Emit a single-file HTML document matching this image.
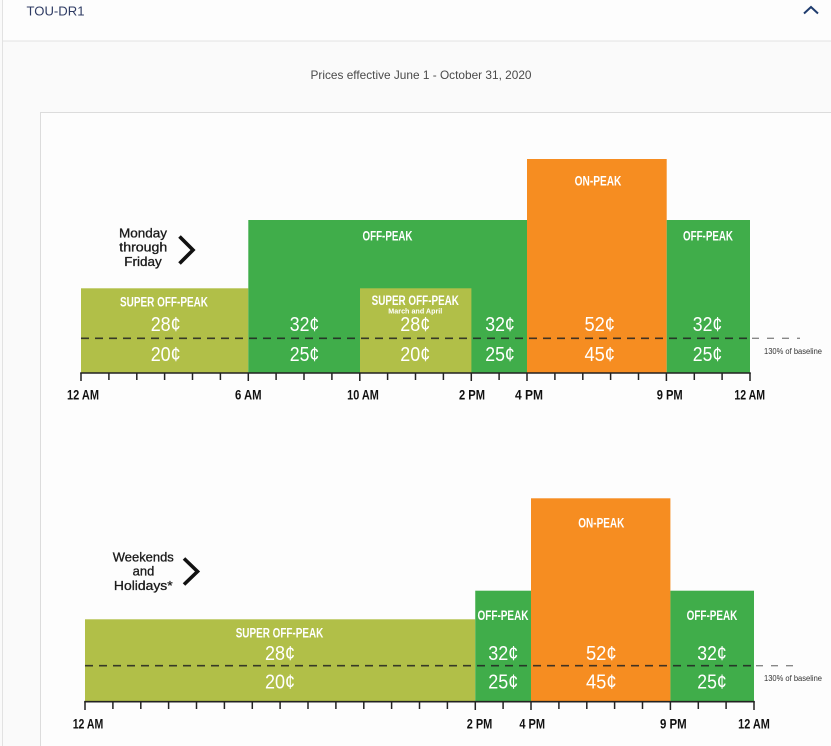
<!DOCTYPE html>
<html>
<head>
<meta charset="utf-8">
<style>
  html,body{margin:0;padding:0;background:#fff;}
  svg{display:block;}
  .lbl{font-family:"Liberation Sans Narrow","Liberation Sans",sans-serif;font-weight:bold;fill:#fff;font-size:13.5px;}
  .pr{font-family:"Liberation Sans Narrow","Liberation Sans",sans-serif;fill:#fff;font-size:20px;}
  .tk{font-family:"Liberation Sans Narrow","Liberation Sans",sans-serif;font-weight:bold;fill:#111;font-size:14px;}
  .day{font-family:"Liberation Sans",sans-serif;fill:#1a1a1a;stroke:#1a1a1a;stroke-width:0.3;font-size:12.5px;}
  .base{font-family:"Liberation Sans",sans-serif;fill:#333;font-size:8px;}
</style>
</head>
<body>
<svg width="831" height="746" viewBox="0 0 831 746" xmlns="http://www.w3.org/2000/svg">
  <rect x="0" y="0" width="831" height="746" fill="#fafafa"/>
  <rect x="2" y="0" width="829" height="41" fill="#fdfdfd"/>
  <line x1="2.5" y1="0" x2="2.5" y2="746" stroke="#e2e2e2" stroke-width="1"/>
  <line x1="2" y1="41" x2="831" y2="41" stroke="#e2e2e2" stroke-width="1"/>
  <text x="26.5" y="15.5" font-family="Liberation Sans, sans-serif" font-size="13px" fill="#2e3b63" textLength="58" lengthAdjust="spacingAndGlyphs">TOU-DR1</text>
  <polyline points="804,13.5 811,7 818,13.5" fill="none" stroke="#1f3c6e" stroke-width="2"/>
  <text x="421" y="79" text-anchor="middle" font-family="Liberation Sans, sans-serif" font-size="12px" fill="#4a4a4a" textLength="221" lengthAdjust="spacingAndGlyphs">Prices effective June 1 - October 31, 2020</text>

  <rect x="40.5" y="112.5" width="800" height="640" fill="#fdfdfd" stroke="#dcdcdc" stroke-width="1"/>

  <!-- TOP CHART -->
  <rect x="81" y="288.3" width="167.3" height="84.7" fill="#b1bf48"/>
  <rect x="248.3" y="220" width="278.7" height="153" fill="#40ad4a"/>
  <rect x="360" y="288.3" width="111.4" height="84.7" fill="#b1bf48"/>
  <rect x="527" y="159" width="139.7" height="214" fill="#f68d21"/>
  <rect x="666.7" y="220" width="83.3" height="153" fill="#40ad4a"/>

  <line x1="81" y1="338.3" x2="750" y2="338.3" stroke="#222" stroke-opacity="0.85" stroke-width="1.6" stroke-dasharray="8 6"/>
  <line x1="752" y1="338.3" x2="800" y2="338.3" stroke="#888" stroke-width="1.4" stroke-dasharray="7 8"/>
  <text class="base" x="764" y="354" textLength="58" lengthAdjust="spacingAndGlyphs">130% of baseline</text>

  <text class="lbl" x="164" y="306.5" text-anchor="middle" textLength="88" lengthAdjust="spacingAndGlyphs">SUPER OFF-PEAK</text>
  <text class="pr" x="165.7" y="331" text-anchor="middle" textLength="30" lengthAdjust="spacingAndGlyphs">28¢</text>
  <text class="pr" x="165.7" y="361" text-anchor="middle" textLength="30" lengthAdjust="spacingAndGlyphs">20¢</text>

  <text class="lbl" x="387.5" y="240.5" text-anchor="middle" textLength="50" lengthAdjust="spacingAndGlyphs">OFF-PEAK</text>
  <text class="pr" x="304.5" y="331" text-anchor="middle" textLength="29.5" lengthAdjust="spacingAndGlyphs">32¢</text>
  <text class="pr" x="304.5" y="361" text-anchor="middle" textLength="29.5" lengthAdjust="spacingAndGlyphs">25¢</text>

  <text class="lbl" x="415.3" y="305" text-anchor="middle" textLength="87.3" lengthAdjust="spacingAndGlyphs">SUPER OFF-PEAK</text>
  <text x="415.3" y="313.5" text-anchor="middle" font-family="Liberation Sans, sans-serif" font-weight="bold" font-size="7px" fill="#fff" textLength="54" lengthAdjust="spacingAndGlyphs">March and April</text>
  <text class="pr" x="415.3" y="331" text-anchor="middle" textLength="30" lengthAdjust="spacingAndGlyphs">28¢</text>
  <text class="pr" x="415.3" y="361" text-anchor="middle" textLength="30" lengthAdjust="spacingAndGlyphs">20¢</text>

  <text class="pr" x="500" y="331" text-anchor="middle" textLength="29.5" lengthAdjust="spacingAndGlyphs">32¢</text>
  <text class="pr" x="500" y="361" text-anchor="middle" textLength="29.5" lengthAdjust="spacingAndGlyphs">25¢</text>

  <text class="lbl" x="598" y="185.5" text-anchor="middle" textLength="46.7" lengthAdjust="spacingAndGlyphs">ON-PEAK</text>
  <text class="pr" x="599.7" y="331" text-anchor="middle" textLength="30.5" lengthAdjust="spacingAndGlyphs">52¢</text>
  <text class="pr" x="599.7" y="361" text-anchor="middle" textLength="30.5" lengthAdjust="spacingAndGlyphs">45¢</text>

  <text class="lbl" x="708" y="240.5" text-anchor="middle" textLength="50" lengthAdjust="spacingAndGlyphs">OFF-PEAK</text>
  <text class="pr" x="707.5" y="331" text-anchor="middle" textLength="29.5" lengthAdjust="spacingAndGlyphs">32¢</text>
  <text class="pr" x="707.5" y="361" text-anchor="middle" textLength="29.5" lengthAdjust="spacingAndGlyphs">25¢</text>

  <line x1="80.2" y1="373" x2="750.8" y2="373" stroke="#222" stroke-width="1.6"/>
  <g stroke="#222" stroke-width="1.5">
    <line x1="81" y1="373" x2="81" y2="381"/><line x1="108.9" y1="373" x2="108.9" y2="380"/>
    <line x1="136.8" y1="373" x2="136.8" y2="380"/><line x1="164.6" y1="373" x2="164.6" y2="380"/>
    <line x1="192.5" y1="373" x2="192.5" y2="380"/><line x1="220.4" y1="373" x2="220.4" y2="380"/>
    <line x1="248.3" y1="373" x2="248.3" y2="381"/><line x1="276.1" y1="373" x2="276.1" y2="380"/>
    <line x1="304" y1="373" x2="304" y2="380"/><line x1="331.9" y1="373" x2="331.9" y2="380"/>
    <line x1="359.8" y1="373" x2="359.8" y2="381"/><line x1="387.6" y1="373" x2="387.6" y2="380"/>
    <line x1="415.5" y1="373" x2="415.5" y2="380"/><line x1="443.4" y1="373" x2="443.4" y2="380"/>
    <line x1="471.3" y1="373" x2="471.3" y2="381"/><line x1="499.1" y1="373" x2="499.1" y2="380"/>
    <line x1="527" y1="373" x2="527" y2="381"/><line x1="554.9" y1="373" x2="554.9" y2="380"/>
    <line x1="582.8" y1="373" x2="582.8" y2="380"/><line x1="610.6" y1="373" x2="610.6" y2="380"/>
    <line x1="638.5" y1="373" x2="638.5" y2="380"/><line x1="666.4" y1="373" x2="666.4" y2="381"/>
    <line x1="694.3" y1="373" x2="694.3" y2="380"/><line x1="722.1" y1="373" x2="722.1" y2="380"/>
    <line x1="750" y1="373" x2="750" y2="381"/>
  </g>
  <text class="tk" x="83" y="399.5" text-anchor="middle" textLength="32" lengthAdjust="spacingAndGlyphs">12 AM</text>
  <text class="tk" x="248.3" y="399.5" text-anchor="middle" textLength="26.7" lengthAdjust="spacingAndGlyphs">6 AM</text>
  <text class="tk" x="363" y="399.5" text-anchor="middle" textLength="31.7" lengthAdjust="spacingAndGlyphs">10 AM</text>
  <text class="tk" x="472" y="399.5" text-anchor="middle" textLength="26" lengthAdjust="spacingAndGlyphs">2 PM</text>
  <text class="tk" x="529" y="399.5" text-anchor="middle" textLength="28" lengthAdjust="spacingAndGlyphs">4 PM</text>
  <text class="tk" x="669.7" y="399.5" text-anchor="middle" textLength="26" lengthAdjust="spacingAndGlyphs">9 PM</text>
  <text class="tk" x="749.7" y="399.5" text-anchor="middle" textLength="30.7" lengthAdjust="spacingAndGlyphs">12 AM</text>

  <text class="day" x="143" y="237.3" text-anchor="middle" textLength="48" lengthAdjust="spacingAndGlyphs">Monday</text>
  <text class="day" x="143.3" y="251.7" text-anchor="middle" textLength="48" lengthAdjust="spacingAndGlyphs">through</text>
  <text class="day" x="143" y="266" text-anchor="middle" textLength="37.4" lengthAdjust="spacingAndGlyphs">Friday</text>
  <polyline points="179.5,236.5 193,250 179.5,263.5" fill="none" stroke="#111" stroke-width="3.6" stroke-linejoin="miter"/>

  <!-- BOTTOM CHART -->
  <rect x="85" y="619.3" width="390.25" height="82.4" fill="#b1bf48"/>
  <rect x="475.25" y="590.7" width="55.75" height="111" fill="#40ad4a"/>
  <rect x="531" y="498.3" width="139.4" height="203.4" fill="#f68d21"/>
  <rect x="670.4" y="590.7" width="83.6" height="111" fill="#40ad4a"/>

  <line x1="85" y1="665.7" x2="754" y2="665.7" stroke="#222" stroke-opacity="0.85" stroke-width="1.6" stroke-dasharray="8 6"/>
  <line x1="756" y1="665.7" x2="800" y2="665.7" stroke="#888" stroke-width="1.4" stroke-dasharray="7 8"/>
  <text class="base" x="764" y="681" textLength="58" lengthAdjust="spacingAndGlyphs">130% of baseline</text>

  <text class="lbl" x="279.5" y="637.3" text-anchor="middle" textLength="87.6" lengthAdjust="spacingAndGlyphs">SUPER OFF-PEAK</text>
  <text class="pr" x="280" y="660" text-anchor="middle" textLength="30" lengthAdjust="spacingAndGlyphs">28¢</text>
  <text class="pr" x="280" y="688.5" text-anchor="middle" textLength="30" lengthAdjust="spacingAndGlyphs">20¢</text>

  <text class="lbl" x="503" y="620" text-anchor="middle" textLength="51" lengthAdjust="spacingAndGlyphs">OFF-PEAK</text>
  <text class="pr" x="503.3" y="660" text-anchor="middle" textLength="30" lengthAdjust="spacingAndGlyphs">32¢</text>
  <text class="pr" x="503.3" y="688.5" text-anchor="middle" textLength="30" lengthAdjust="spacingAndGlyphs">25¢</text>

  <text class="lbl" x="601.3" y="527.7" text-anchor="middle" textLength="46" lengthAdjust="spacingAndGlyphs">ON-PEAK</text>
  <text class="pr" x="601.3" y="660" text-anchor="middle" textLength="30.7" lengthAdjust="spacingAndGlyphs">52¢</text>
  <text class="pr" x="601.3" y="688.5" text-anchor="middle" textLength="30.7" lengthAdjust="spacingAndGlyphs">45¢</text>

  <text class="lbl" x="712" y="620" text-anchor="middle" textLength="50.7" lengthAdjust="spacingAndGlyphs">OFF-PEAK</text>
  <text class="pr" x="712" y="660" text-anchor="middle" textLength="29.4" lengthAdjust="spacingAndGlyphs">32¢</text>
  <text class="pr" x="712" y="688.5" text-anchor="middle" textLength="29.4" lengthAdjust="spacingAndGlyphs">25¢</text>

  <line x1="84.2" y1="701.7" x2="754.8" y2="701.7" stroke="#222" stroke-width="1.6"/>
  <g stroke="#222" stroke-width="1.5">
    <line x1="85" y1="701.7" x2="85" y2="710"/><line x1="112.9" y1="701.7" x2="112.9" y2="709"/>
    <line x1="140.8" y1="701.7" x2="140.8" y2="709"/><line x1="168.6" y1="701.7" x2="168.6" y2="709"/>
    <line x1="196.5" y1="701.7" x2="196.5" y2="709"/><line x1="224.4" y1="701.7" x2="224.4" y2="709"/>
    <line x1="252.3" y1="701.7" x2="252.3" y2="709"/><line x1="280.1" y1="701.7" x2="280.1" y2="709"/>
    <line x1="308" y1="701.7" x2="308" y2="709"/><line x1="335.9" y1="701.7" x2="335.9" y2="709"/>
    <line x1="363.8" y1="701.7" x2="363.8" y2="709"/><line x1="391.6" y1="701.7" x2="391.6" y2="709"/>
    <line x1="419.5" y1="701.7" x2="419.5" y2="709"/><line x1="447.4" y1="701.7" x2="447.4" y2="709"/>
    <line x1="475.3" y1="701.7" x2="475.3" y2="710"/><line x1="503.1" y1="701.7" x2="503.1" y2="709"/>
    <line x1="531" y1="701.7" x2="531" y2="710"/><line x1="558.9" y1="701.7" x2="558.9" y2="709"/>
    <line x1="586.8" y1="701.7" x2="586.8" y2="709"/><line x1="614.6" y1="701.7" x2="614.6" y2="709"/>
    <line x1="642.5" y1="701.7" x2="642.5" y2="709"/><line x1="670.4" y1="701.7" x2="670.4" y2="710"/>
    <line x1="698.3" y1="701.7" x2="698.3" y2="709"/><line x1="726.1" y1="701.7" x2="726.1" y2="709"/>
    <line x1="754" y1="701.7" x2="754" y2="710"/>
  </g>
  <text class="tk" x="88" y="728.3" text-anchor="middle" textLength="30.6" lengthAdjust="spacingAndGlyphs">12 AM</text>
  <text class="tk" x="479.5" y="728.3" text-anchor="middle" textLength="25.6" lengthAdjust="spacingAndGlyphs">2 PM</text>
  <text class="tk" x="532.2" y="728.3" text-anchor="middle" textLength="25.7" lengthAdjust="spacingAndGlyphs">4 PM</text>
  <text class="tk" x="673.3" y="728.3" text-anchor="middle" textLength="26.7" lengthAdjust="spacingAndGlyphs">9 PM</text>
  <text class="tk" x="754" y="728.3" text-anchor="middle" textLength="31.7" lengthAdjust="spacingAndGlyphs">12 AM</text>

  <text class="day" x="143.3" y="561.5" text-anchor="middle" textLength="61" lengthAdjust="spacingAndGlyphs">Weekends</text>
  <text class="day" x="143.5" y="575.7" text-anchor="middle" textLength="21.6" lengthAdjust="spacingAndGlyphs">and</text>
  <text class="day" x="143.3" y="590" text-anchor="middle" textLength="58.7" lengthAdjust="spacingAndGlyphs">Holidays*</text>
  <polyline points="184,558.5 197.5,571.5 184,584.5" fill="none" stroke="#111" stroke-width="3.6" stroke-linejoin="miter"/>
</svg>
</body>
</html>
